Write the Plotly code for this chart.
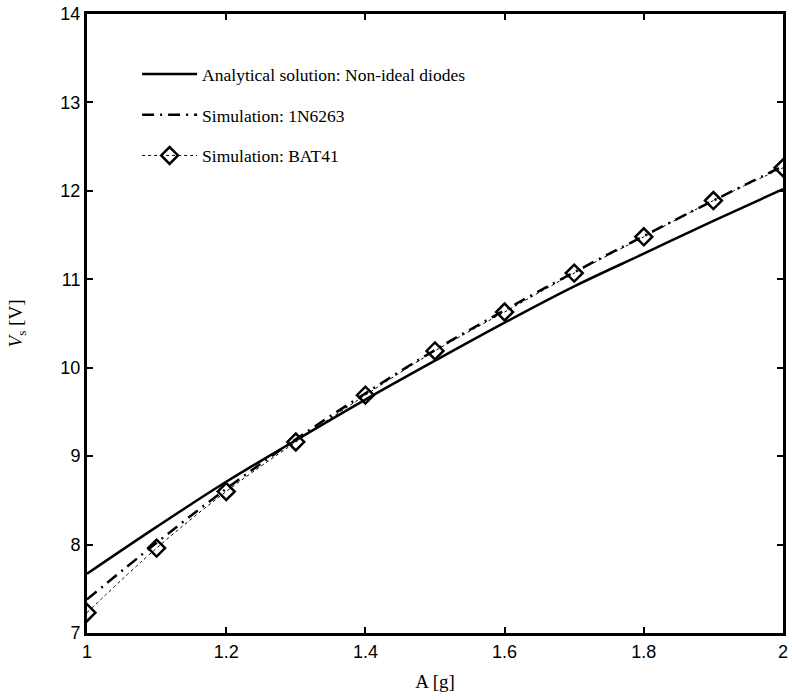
import plotly.graph_objects as go

A = [1.0, 1.1, 1.2, 1.3, 1.4, 1.5, 1.6, 1.7, 1.8, 1.9, 2.0]
analytical = [7.67, 8.20, 8.71, 9.18, 9.64, 10.08, 10.51, 10.92, 11.29, 11.66, 12.02]
sim_1n6263 = [7.38, 8.02, 8.63, 9.19, 9.71, 10.20, 10.65, 11.08, 11.49, 11.89, 12.28]
sim_bat41 = [7.23, 7.96, 8.60, 9.16, 9.69, 10.19, 10.63, 11.07, 11.48, 11.89, 12.26]

names = ["Analytical solution: Non-ideal diodes", "Simulation: 1N6263", "Simulation: BAT41"]
x_ticks = [1, 1.2, 1.4, 1.6, 1.8, 2]
y_ticks = [7, 8, 9, 10, 11, 12, 13, 14]

fig = go.Figure()
fig.add_trace(go.Scatter(x=A, y=analytical, mode="lines", name=names[0], legendgroup="a",
                         line=dict(color="black", width=2.5, shape="spline")))
fig.add_trace(go.Scatter(x=A, y=sim_1n6263, mode="lines", name=names[1], legendgroup="b",
                         line=dict(color="black", width=2.5, dash="12px,6px,2px,6px", shape="spline")))
fig.add_trace(go.Scatter(x=A, y=sim_bat41, mode="lines+markers", name=names[2], legendgroup="c",
                         line=dict(color="black", width=1, dash="dot", shape="spline"),
                         marker=dict(symbol="diamond-open", size=13, color="black", line=dict(width=2.5))))

axis_common = dict(showline=True, linecolor="black", linewidth=3, mirror="ticks", ticks="inside",
                   ticklen=6, tickwidth=2, tickcolor="black", showgrid=False, zeroline=False,
                   automargin=False, ticklabeloverflow="allow",
                   tickfont=dict(family="Liberation Sans, Arial, sans-serif", size=18, color="black"))

fig.update_layout(
    width=792, height=700,
    margin=dict(l=87, r=9, t=14, b=67, autoexpand=False),
    plot_bgcolor="white", paper_bgcolor="white",
    xaxis=dict(range=[1, 2], tickvals=x_ticks, ticktext=[str(t) for t in x_ticks],
               title=dict(text="A [g]", font=dict(family="Liberation Serif, DejaVu Serif, serif", size=19, color="black"), standoff=15),
               **axis_common),
    yaxis=dict(range=[7, 14], tickvals=y_ticks,
               title=dict(text="<i>V</i><sub>s</sub> [V]", font=dict(family="Liberation Serif, DejaVu Serif, serif", size=19, color="black"), standoff=33),
               **axis_common),
    legend=dict(x=0.072, y=0.932, xanchor="left", yanchor="top", bgcolor="rgba(0,0,0,0)",
                font=dict(family="Liberation Serif, DejaVu Serif, serif", size=17.5, color="black"),
                tracegroupgap=15, itemwidth=55),
    showlegend=True,
)

# remove the default 8px page margin so the 792x700 figure fills the window exactly
fig.write_html("out.html", config={"displayModeBar": False},
               post_script="document.body.style.margin='0';document.body.style.overflow='hidden';")
